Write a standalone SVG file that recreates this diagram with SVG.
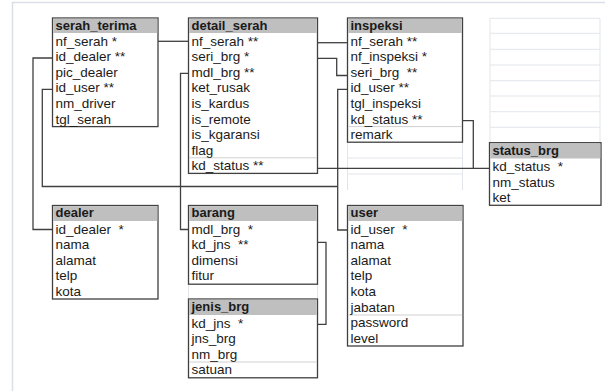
<svg xmlns="http://www.w3.org/2000/svg" width="605" height="391" viewBox="0 0 605 391">
<style>
.frame{fill:none;stroke:#dbe0e8;stroke-width:1.5}
.cell{fill:none;stroke:#e2e5ea;stroke-width:1}
.box{fill:#fff;stroke:#404040;stroke-width:1.3}
.hdr{fill:#bfbfbf}
.sep{stroke:#d0d0d0;stroke-width:1}
.t{font-family:"Liberation Sans",Arial,sans-serif;font-size:13.5px;fill:#1a1a1a;white-space:pre}
.h{font-family:"Liberation Sans",Arial,sans-serif;font-size:13px;font-weight:bold;fill:#1a1a1a}
.c{fill:none;stroke:#404040;stroke-width:1.3}
</style>
<rect width="605" height="391" fill="#fff"/>
<g id="background">
<path class="frame" d="M12.5,391 V2.5 H605"/>
<path class="cell" d="M490,18.3 H600 M490,33.3 H600 M490,49.3 H600 M490,65 H600 M490,80.7 H600 M490,96 H600 M490,111.7 H600 M490,127.3 H600 M490,18.3 V142.7 M600,18.3 V142.7"/>
<path class="cell" d="M347.5,158 H462.5 M347.5,174 H462.5 M347.5,142 V190 M462.5,142 V190"/>
<path class="cell" d="M188.5,284 V299 M317.5,284 V299"/>
</g>
<g id="connectors">
<path class="c" d="M158,41.3 H188.5"/>
<path class="c" d="M317.5,42.7 H347.5"/>
<path class="c" d="M317.5,58.3 H336.7 V75.5 H347.5"/>
<path class="c" d="M347.5,89.3 H337.7 V230 H347.5"/>
<path class="c" d="M52.5,58 H33 V229.5 H52.5"/>
<path class="c" d="M52.5,89.3 H42.3 V186.5 H337.7"/>
<path class="c" d="M188.5,73.3 H180.5 V229.5 H188.5"/>
<path class="c" d="M317.5,168.3 H489.5"/>
<path class="c" d="M462.5,120.7 H473.3 V168.3"/>
<path class="c" d="M317.5,242.3 H326 V324.3 H317.5"/>
</g>
<g id="serah_terima">
<rect class="box" x="52.5" y="18" width="105.5" height="108.6"/>
<rect class="hdr" x="53.2" y="18.7" width="104.1" height="14.3"/>
<text class="h" x="55.5" y="29.8">serah_terima</text>
<text class="t" x="55.5" y="45.5">nf_serah *</text>
<text class="t" x="55.5" y="61.1">id_dealer **</text>
<text class="t" x="55.5" y="76.7">pic_dealer</text>
<text class="t" x="55.5" y="92.3">id_user **</text>
<text class="t" x="55.5" y="107.9">nm_driver</text>
<text class="t" x="55.5" y="123.5">tgl_serah</text>
</g>
<g id="detail_serah">
<rect class="box" x="188.5" y="18" width="129" height="155.4"/>
<rect class="hdr" x="189.2" y="18.7" width="127.6" height="14.3"/>
<line class="sep" x1="189.2" y1="157.8" x2="316.8" y2="157.8"/>
<text class="h" x="191.5" y="29.8">detail_serah</text>
<text class="t" x="191.5" y="45.5">nf_serah **</text>
<text class="t" x="191.5" y="61.1">seri_brg *</text>
<text class="t" x="191.5" y="76.7">mdl_brg **</text>
<text class="t" x="191.5" y="92.3">ket_rusak</text>
<text class="t" x="191.5" y="107.9">is_kardus</text>
<text class="t" x="191.5" y="123.5">is_remote</text>
<text class="t" x="191.5" y="139.1">is_kgaransi</text>
<text class="t" x="191.5" y="154.7">flag</text>
<text class="t" x="191.5" y="170.3">kd_status **</text>
</g>
<g id="inspeksi">
<rect class="box" x="347.5" y="18" width="115" height="124.2"/>
<rect class="hdr" x="348.2" y="18.7" width="113.6" height="14.3"/>
<line class="sep" x1="348.2" y1="126.6" x2="461.8" y2="126.6"/>
<text class="h" x="350.5" y="29.8">inspeksi</text>
<text class="t" x="350.5" y="45.5">nf_serah **</text>
<text class="t" x="350.5" y="61.1">nf_inspeksi *</text>
<text class="t" x="350.5" y="76.7">seri_brg  **</text>
<text class="t" x="350.5" y="92.3">id_user **</text>
<text class="t" x="350.5" y="107.9">tgl_inspeksi</text>
<text class="t" x="350.5" y="123.5">kd_status **</text>
<text class="t" x="350.5" y="139.1">remark</text>
</g>
<g id="status_brg">
<rect class="box" x="489.5" y="142.7" width="111.5" height="62.6"/>
<rect class="hdr" x="490.2" y="143.4" width="110.1" height="15.1"/>
<text class="h" x="492.5" y="154.8">status_brg</text>
<text class="t" x="492.5" y="171">kd_status  *</text>
<text class="t" x="492.5" y="186.6">nm_status</text>
<text class="t" x="492.5" y="202.2">ket</text>
</g>
<g id="dealer">
<rect class="box" x="52.5" y="205.5" width="105.5" height="93.5"/>
<rect class="hdr" x="53.2" y="206.2" width="104.1" height="14.8"/>
<text class="h" x="55.5" y="217.3">dealer</text>
<text class="t" x="55.5" y="233.5">id_dealer  *</text>
<text class="t" x="55.5" y="249.1">nama</text>
<text class="t" x="55.5" y="264.7">alamat</text>
<text class="t" x="55.5" y="280.3">telp</text>
<text class="t" x="55.5" y="295.9">kota</text>
</g>
<g id="barang">
<rect class="box" x="188.5" y="205.5" width="129" height="78.7"/>
<rect class="hdr" x="189.2" y="206.2" width="127.6" height="14.8"/>
<text class="h" x="191.5" y="217.3">barang</text>
<text class="t" x="191.5" y="233.5">mdl_brg  *</text>
<text class="t" x="191.5" y="249.1">kd_jns  **</text>
<text class="t" x="191.5" y="264.7">dimensi</text>
<text class="t" x="191.5" y="280.3">fitur</text>
</g>
<g id="jenis_brg">
<rect class="box" x="188.5" y="299" width="129" height="78.8"/>
<rect class="hdr" x="189.2" y="299.7" width="127.6" height="15.3"/>
<line class="sep" x1="189.2" y1="362" x2="316.8" y2="362"/>
<text class="h" x="191.5" y="311.3">jenis_brg</text>
<text class="t" x="191.5" y="327.5">kd_jns  *</text>
<text class="t" x="191.5" y="343.1">jns_brg</text>
<text class="t" x="191.5" y="358.7">nm_brg</text>
<text class="t" x="191.5" y="374.3">satuan</text>
</g>
<g id="user">
<rect class="box" x="347.5" y="205.5" width="115.5" height="140.5"/>
<rect class="hdr" x="348.2" y="206.2" width="114.1" height="14.8"/>
<line class="sep" x1="348.2" y1="315" x2="462.3" y2="315"/>
<text class="h" x="350.5" y="217.3">user</text>
<text class="t" x="350.5" y="233.5">id_user  *</text>
<text class="t" x="350.5" y="249.1">nama</text>
<text class="t" x="350.5" y="264.7">alamat</text>
<text class="t" x="350.5" y="280.3">telp</text>
<text class="t" x="350.5" y="295.9">kota</text>
<text class="t" x="350.5" y="311.5">jabatan</text>
<text class="t" x="350.5" y="327.1">password</text>
<text class="t" x="350.5" y="342.7">level</text>
</g>
</svg>
